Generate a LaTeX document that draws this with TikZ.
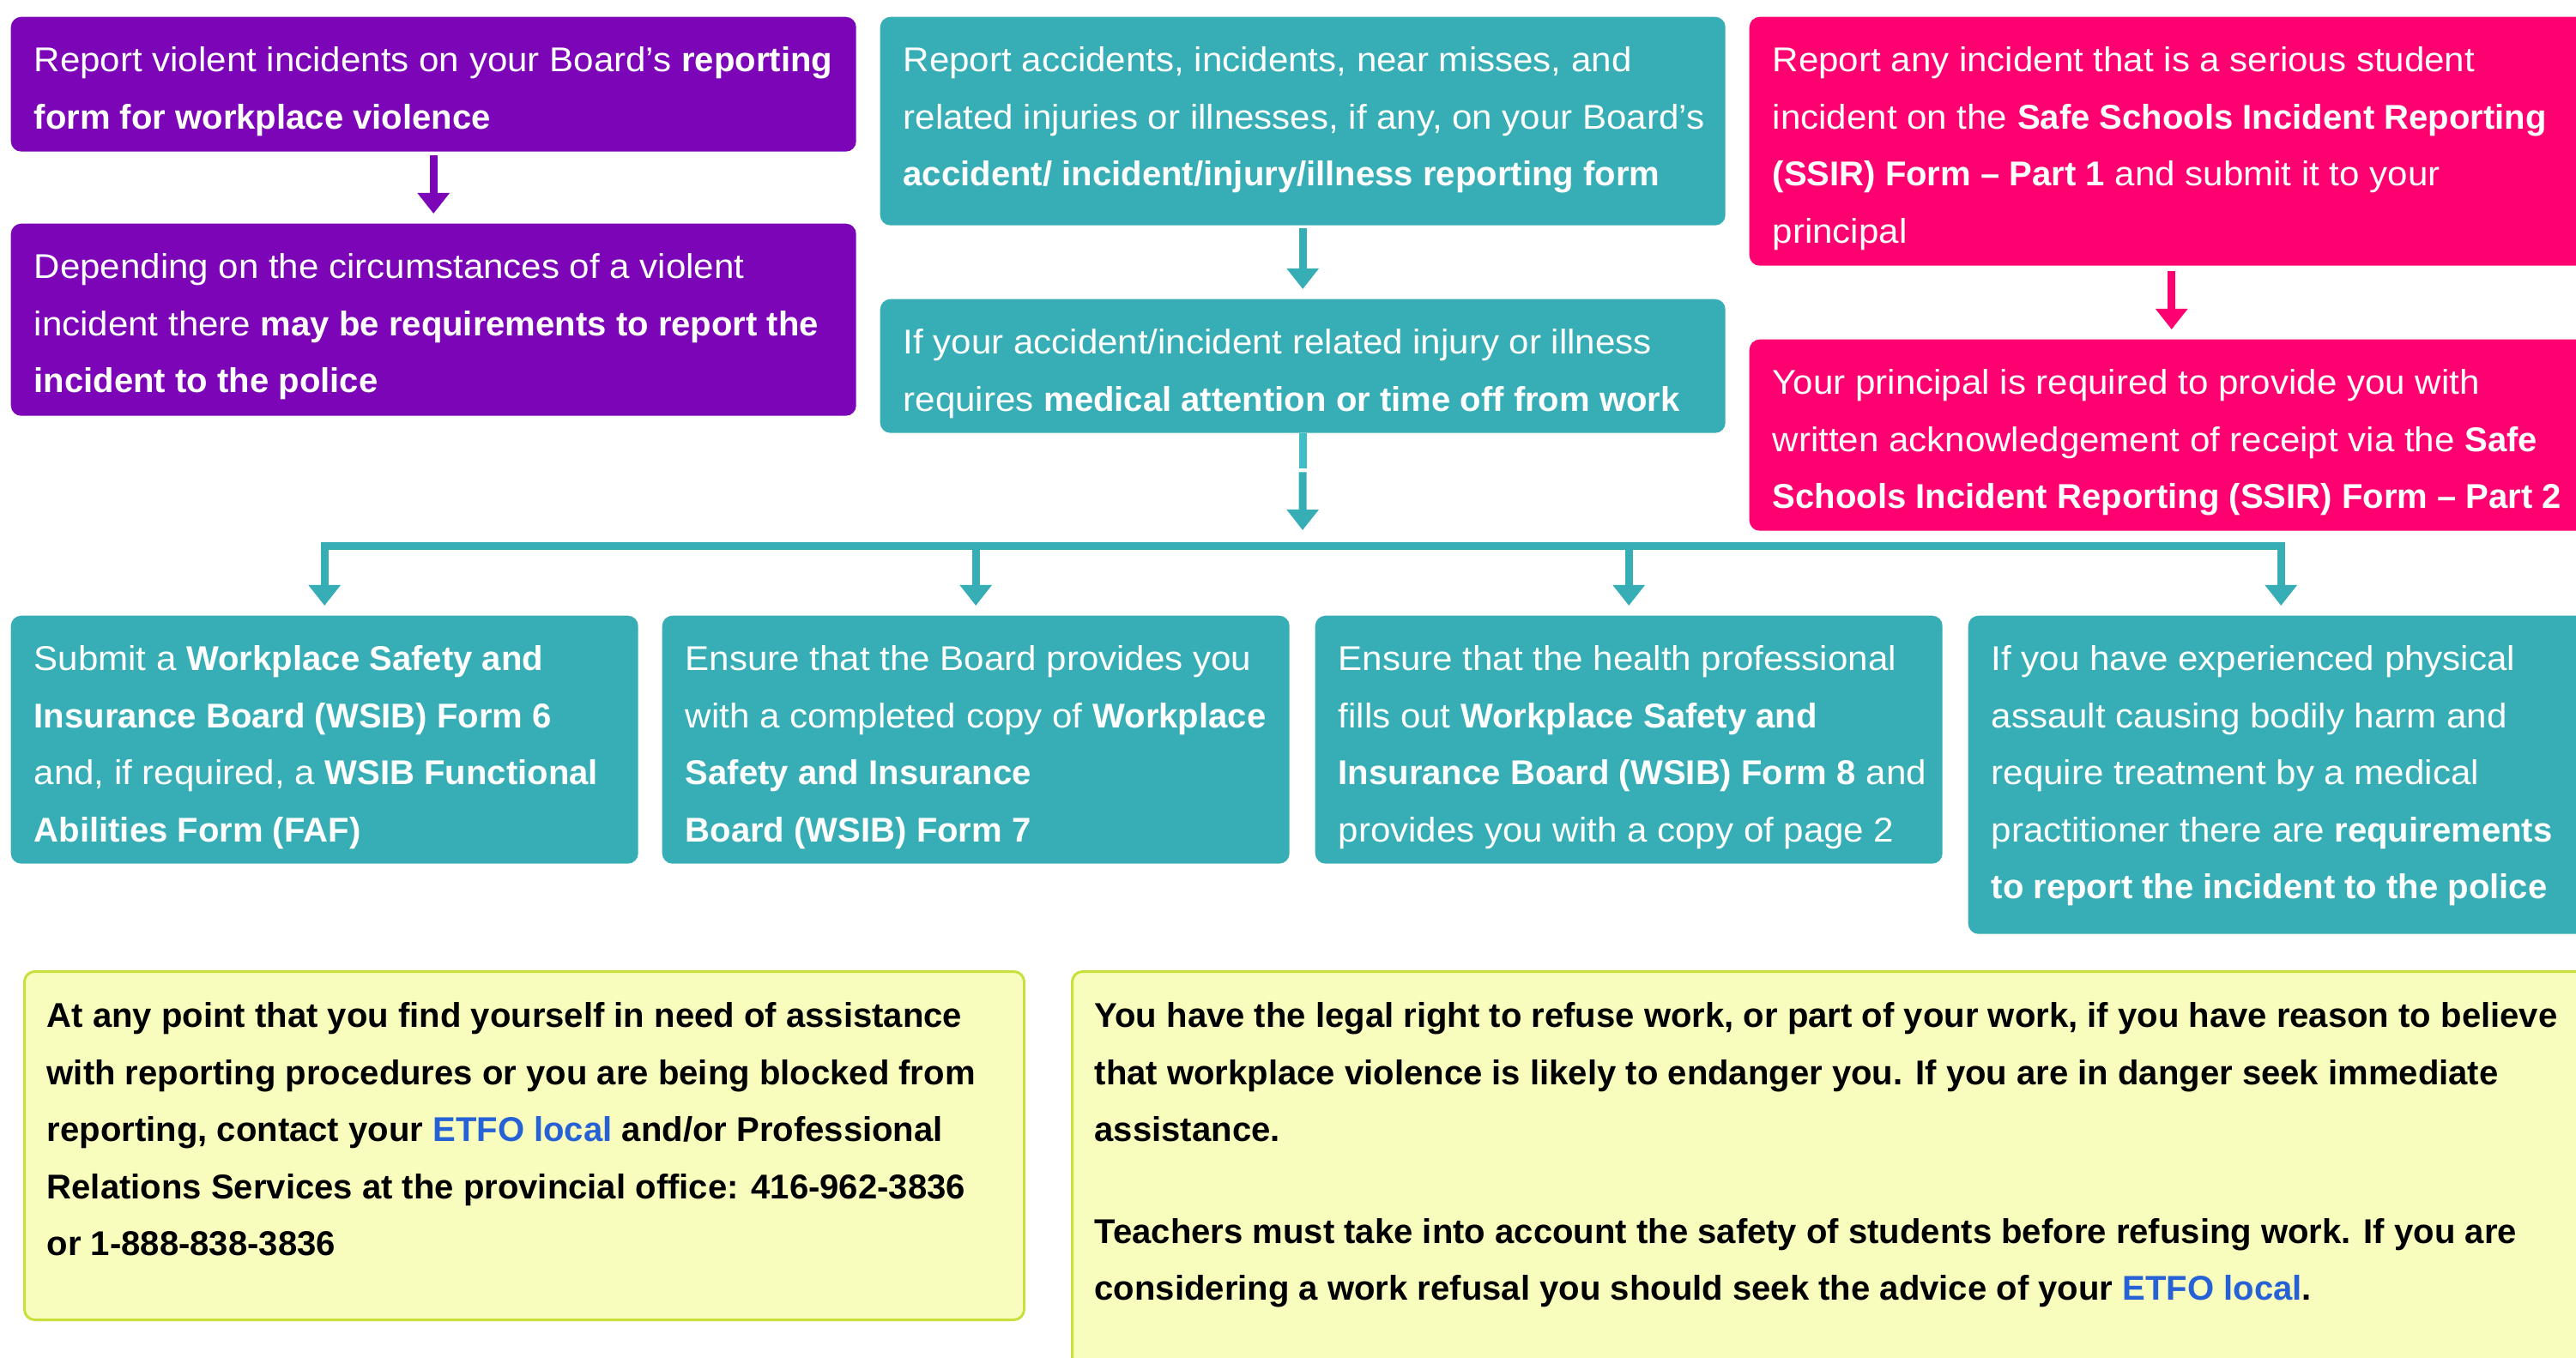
\documentclass[tikz,border=0pt]{standalone}
\usepackage{fontspec}
\setmainfont{Liberation Sans}[UprightFeatures={FakeStretch=1.05}]
\usetikzlibrary{positioning,arrows.meta,calc}
\definecolor{violetbox}{RGB}{123,5,183}
\definecolor{tealbox}{RGB}{55,174,181}
\definecolor{tealmid}{RGB}{64,190,199}
\definecolor{pinkbox}{RGB}{255,0,112}
\definecolor{notefill}{RGB}{248,253,189}
\definecolor{noteline}{RGB}{200,224,60}
\definecolor{linkblue}{RGB}{38,98,214}

\begin{document}
\begin{tikzpicture}[box/.style={rounded corners=0.12cm,anchor=north west,inner sep=0pt},
    txt/.style={anchor=north west,inner sep=0pt,align=left,font=\fontsize{11.4}{18.9}\selectfont},
    flow/.style={line width=0.09cm},
    tip/.style={line width=0.09cm,-{Triangle[width=0.36cm,length=0.24cm]},shorten >=0.11cm}]
      \fill[white] (0,0) rectangle (30.02,-15.83);
      \useasboundingbox (0,0) rectangle (30.02,-15.83);
      \clip (0,0) rectangle (30.02,-15.83);

      \node[box,fill=violetbox,minimum width=9.85cm,minimum height=1.57cm](viol1) at (0.12,-0.19){};
      \node[txt,text=white,below right=0.35cm and 0.27cm of viol1.north west]{Report violent incidents on your Board’s \textbf{reporting}\\ \textbf{form for workplace violence}};
      \node[box,fill=violetbox,minimum width=9.85cm,minimum height=2.24cm](viol2) at (0.12,-2.60){};
      \node[txt,text=white,below right=0.35cm and 0.27cm of viol2.north west]{Depending on the circumstances of a violent\\ incident there \textbf{may be requirements to report the}\\ \textbf{incident to the police}};

      \node[box,fill=tealbox,minimum width=9.85cm,minimum height=2.43cm](acc1) at (10.25,-0.19){};
      \node[txt,text=white,below right=0.35cm and 0.27cm of acc1.north west]{Report accidents, incidents, near misses, and\\ related injuries or illnesses, if any, on your Board’s\\ \textbf{accident/ incident/injury/illness reporting form}};
      \node[box,fill=tealbox,minimum width=9.85cm,minimum height=1.56cm](acc2) at (10.25,-3.48){};
      \node[txt,text=white,below right=0.35cm and 0.27cm of acc2.north west]{If your accident/incident related injury or illness\\ requires \textbf{medical attention or time off from work}};

      \node[box,fill=pinkbox,minimum width=9.84cm,minimum height=2.90cm](ssir1) at (20.38,-0.19){};
      \node[txt,text=white,below right=0.35cm and 0.27cm of ssir1.north west]{Report any incident that is a serious student\\ incident on the \textbf{Safe Schools Incident Reporting}\\ \textbf{(SSIR) Form – Part 1} and submit it to your\\ principal};
      \node[box,fill=pinkbox,minimum width=9.84cm,minimum height=2.23cm](ssir2) at (20.38,-3.95){};
      \node[txt,text=white,below right=0.35cm and 0.27cm of ssir2.north west]{Your principal is required to provide you with\\ written acknowledgement of receipt via the \textbf{Safe}\\ \textbf{Schools Incident Reporting (SSIR) Form – Part 2}};

      \node[box,fill=tealbox,minimum width=7.31cm,minimum height=2.89cm](wsib6) at (0.12,-7.17){};
      \node[txt,text=white,below right=0.35cm and 0.27cm of wsib6.north west]{Submit a \textbf{Workplace Safety and}\\ \textbf{Insurance Board (WSIB) Form 6}\\ and, if required, a \textbf{WSIB Functional}\\ \textbf{Abilities Form (FAF)}};
      \node[box,fill=tealbox,minimum width=7.31cm,minimum height=2.89cm](wsib7) at (7.71,-7.17){};
      \node[txt,text=white,below right=0.35cm and 0.27cm of wsib7.north west]{Ensure that the Board provides you\\ with a completed copy of \textbf{Workplace}\\ \textbf{Safety and Insurance}\\ \textbf{Board (WSIB) Form 7}};
      \node[box,fill=tealbox,minimum width=7.31cm,minimum height=2.89cm](wsib8) at (15.32,-7.17){};
      \node[txt,text=white,below right=0.35cm and 0.27cm of wsib8.north west]{Ensure that the health professional\\ fills out \textbf{Workplace Safety and}\\ \textbf{Insurance Board (WSIB) Form 8} and\\ provides you with a copy of page 2};
      \node[box,fill=tealbox,minimum width=7.29cm,minimum height=3.71cm](assault) at (22.93,-7.17){};
      \node[txt,text=white,below right=0.35cm and 0.27cm of assault.north west]{If you have experienced physical\\ assault causing bodily harm and\\ require treatment by a medical\\ practitioner there are \textbf{requirements}\\ \textbf{to report the incident to the police}};

      \node[box,fill=notefill,draw=noteline,line width=0.03cm,minimum width=11.65cm,minimum height=4.06cm](help) at (0.27,-11.31){};
      \node[txt,font=\fontsize{11.4}{18.9}\selectfont\bfseries,below right=0.37cm and 0.27cm of help.north west]{At any point that you find yourself in need of assistance\\ with reporting procedures or you are being blocked from\\ reporting, contact your \textcolor{linkblue}{ETFO local} and/or Professional\\ Relations Services at the provincial office: 416-962-3836\\ or 1-888-838-3836};
      \node[box,fill=notefill,draw=noteline,line width=0.03cm,minimum width=17.9cm,minimum height=4.9cm](refuse) at (12.48,-11.31){};
      \node[txt,font=\fontsize{11.4}{18.9}\selectfont\bfseries,below right=0.37cm and 0.27cm of refuse.north west]{You have the legal right to refuse work, or part of your work, if you have reason to believe\\ that workplace violence is likely to endanger you. If you are in danger seek immediate\\ assistance.\\[0.52cm] Teachers must take into account the safety of students before refusing work. If you are\\ considering a work refusal you should seek the advice of your \textcolor{linkblue}{ETFO local}.};

      \draw[tip,violetbox,shorten <=0.04cm](viol1.south) -- (viol2.north);
      \draw[tip,tealbox,shorten <=0.03cm](acc1.south) -- (acc2.north);
      \draw[tip,pinkbox,shorten <=0.06cm](ssir1.south) -- (ssir2.north);

      \coordinate (bar) at (15.18,-6.37);
      \draw[flow,tealmid](acc2.south) -- ++(0,-0.41) coordinate (split);
      \draw[tip,tealbox,shorten >=0.19cm]($(split)+(0,-0.04)$) -- (bar);
      \draw[flow,tealbox,line cap=rect](wsib6.north |- bar) -- (assault.north |- bar);
      \foreach \n in {wsib6,wsib7,wsib8,assault}
        \draw[tip,tealbox](\n.north |- bar) -- (\n.north);
\end{tikzpicture}
\end{document}
